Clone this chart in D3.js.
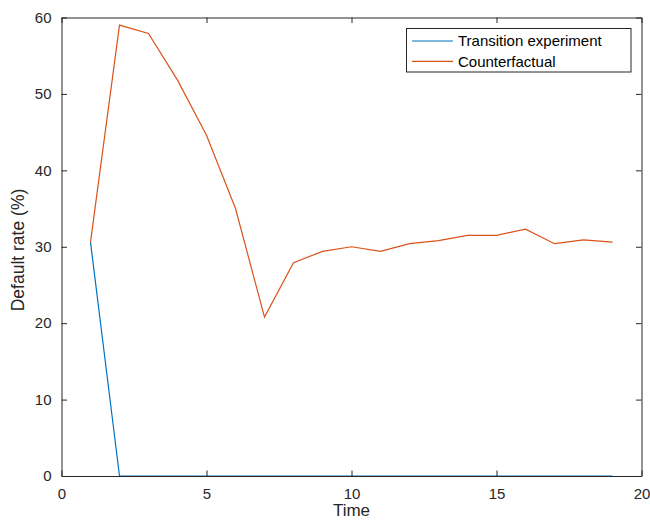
<!DOCTYPE html>
<html>
<head>
<meta charset="utf-8">
<script src="https://cdn.jsdelivr.net/npm/d3@7/dist/d3.min.js"></script>
<style>
  html, body { margin: 0; padding: 0; background: #fff; }
  svg { display: block; font-family: "Liberation Sans", Arial, Helvetica, sans-serif; }
</style>
</head>
<body>
<svg id="chart" width="650" height="520"></svg>
<script>
const time = [1,2,3,4,5,6,7,8,9,10,11,12,13,14,15,16,17,18,19];
const transition = [30.6,0,0,0,0,0,0,0,0,0,0,0,0,0,0,0,0,0,0];
const counterfactual = [30.6,59.0,57.9,51.8,44.6,35.0,20.8,27.9,29.4,30.0,29.4,30.4,30.8,31.5,31.5,32.3,30.4,30.9,30.6];
const xTicks = [0,5,10,15,20];
const yTicks = [0,10,20,30,40,50,60];
const seriesNames = ["Transition experiment", "Counterfactual"];
const colors = ["#0072BD", "#D95319"];

(function () {
const svg = d3.select("#chart");
const mLeft = 61.5, mRight = 641.5, mTop = 17.5, mBottom = 476;
const x = d3.scaleLinear().domain([0,20]).range([mLeft, mRight]);
const y = d3.scaleLinear().domain([0,60]).range([mBottom, mTop]);
const axisColor = "#262626";
const tickLen = 5.5;

const line = d3.line().x((d,i) => x(time[i])).y(d => y(d));
[transition, counterfactual].forEach((s, k) => {
  svg.append("path").datum(s)
    .attr("fill", "none").attr("stroke", colors[k]).attr("stroke-width", 1.2)
    .attr("d", line);
});

function styleAxis(g) {
  g.selectAll("path.domain").attr("stroke", axisColor);
  g.selectAll(".tick line").attr("stroke", axisColor);
  g.selectAll(".tick text").attr("fill", axisColor).attr("font-size", 15)
    .attr("font-family", "Liberation Sans, Arial, sans-serif");
}

const gb = svg.append("g").attr("transform", `translate(0,${mBottom})`)
  .call(d3.axisBottom(x).tickValues(xTicks).tickSizeInner(-tickLen).tickSizeOuter(0).tickPadding(12));
styleAxis(gb);
const gt = svg.append("g").attr("transform", `translate(0,${mTop})`)
  .call(d3.axisTop(x).tickValues(xTicks).tickSizeInner(-tickLen).tickSizeOuter(0).tickFormat(""));
styleAxis(gt);
const gl = svg.append("g").attr("transform", `translate(${mLeft},0)`)
  .call(d3.axisLeft(y).tickValues(yTicks).tickSizeInner(-tickLen).tickSizeOuter(0).tickPadding(10));
styleAxis(gl);
const gr = svg.append("g").attr("transform", `translate(${mRight},0)`)
  .call(d3.axisRight(y).tickValues(yTicks).tickSizeInner(-tickLen).tickSizeOuter(0).tickFormat(""));
styleAxis(gr);

svg.append("text").attr("x", (mLeft+mRight)/2).attr("y", 516)
  .attr("text-anchor", "middle").attr("font-size", 17).attr("fill", axisColor).text("Time");
svg.append("text").attr("transform", `translate(24,250) rotate(-90)`)
  .attr("text-anchor", "middle").attr("font-size", 17.5).attr("fill", axisColor).text("Default rate (%)");

const lg = svg.append("g");
lg.append("rect").attr("x", 406.5).attr("y", 28.5).attr("width", 224.5).attr("height", 43.5)
  .attr("fill", "#fff").attr("stroke", axisColor).attr("stroke-width", 1);
seriesNames.forEach((n, k) => {
  const yy = 41 + k * 20.3;
  lg.append("line").attr("x1", 412).attr("x2", 453).attr("y1", yy).attr("y2", yy)
    .attr("stroke", colors[k]).attr("stroke-width", 1.2);
  lg.append("text").attr("x", 458).attr("y", yy + 5.3).attr("font-size", 15)
    .attr("fill", "#000").text(n);
});
})();
</script>
</body>
</html>
